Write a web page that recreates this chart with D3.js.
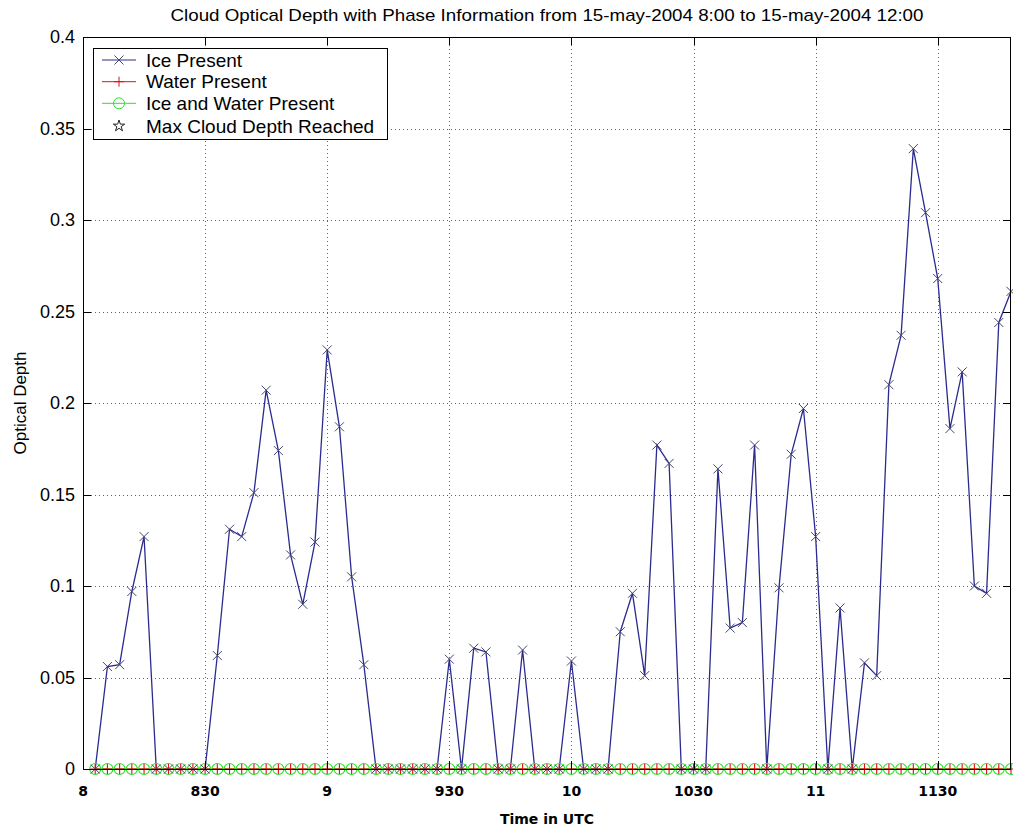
<!DOCTYPE html>
<html>
<head>
<meta charset="utf-8">
<script src="https://cdn.jsdelivr.net/npm/d3@7/dist/d3.min.js"></script>
<style>
  html, body { margin: 0; padding: 0; background: #fff; }
  svg { display: block; }
</style>
</head>
<body>
<svg id="chart" width="1013" height="832"></svg>
<script>
// Sample times (UTC) on 15-may-2004
const sampleTimes = [
  "08:03","08:06","08:09","08:12","08:15","08:18","08:21","08:24","08:27","08:30",
  "08:33","08:36","08:39","08:42","08:45","08:48","08:51","08:54","08:57","09:00",
  "09:03","09:06","09:09","09:12","09:15","09:18","09:21","09:24","09:27","09:30",
  "09:33","09:36","09:39","09:42","09:45","09:48","09:51","09:54","09:57","10:00",
  "10:03","10:06","10:09","10:12","10:15","10:18","10:21","10:24","10:27","10:30",
  "10:33","10:36","10:39","10:42","10:45","10:48","10:51","10:54","10:57","11:00",
  "11:03","11:06","11:09","11:12","11:15","11:18","11:21","11:24","11:27","11:30",
  "11:33","11:36","11:39","11:42","11:45","11:48"
];

// Optical depth where ice is present
const icePresent = [
  0, 0.056, 0.057, 0.097, 0.127, 0, 0, 0, 0, 0,
  0.062, 0.131, 0.127, 0.151, 0.207, 0.174, 0.117, 0.090, 0.124, 0.229,
  0.187, 0.105, 0.057, 0, 0, 0, 0, 0, 0, 0.060,
  0, 0.066, 0.064, 0, 0, 0.065, 0, 0, 0, 0.059,
  0, 0, 0, 0.075, 0.096, 0.051, 0.177, 0.167, 0, 0,
  0, 0.164, 0.077, 0.080, 0.177, 0, 0.099, 0.172, 0.197, 0.127,
  0, 0.088, 0, 0.058, 0.051, 0.210, 0.237, 0.339, 0.304, 0.268,
  0.186, 0.217, 0.100, 0.096, 0.244, 0.261
];

// Optical depth where liquid water is present
const waterPresent = [
  0,0,0,0,0,0,0,0,0,0, 0,0,0,0,0,0,0,0,0,0,
  0,0,0,0,0,0,0,0,0,0, 0,0,0,0,0,0,0,0,0,0,
  0,0,0,0,0,0,0,0,0,0, 0,0,0,0,0,0,0,0,0,0,
  0,0,0,0,0,0,0,0,0,0, 0,0,0,0,0,0
];

// Optical depth where both ice and water are present
const iceAndWaterPresent = [
  0,0,0,0,0,0,0,0,0,0, 0,0,0,0,0,0,0,0,0,0,
  0,0,0,0,0,0,0,0,0,0, 0,0,0,0,0,0,0,0,0,0,
  0,0,0,0,0,0,0,0,0,0, 0,0,0,0,0,0,0,0,0,0,
  0,0,0,0,0,0,0,0,0,0, 0,0,0,0,0,0
];

// Samples where the maximum cloud depth was reached (none in this window)
const maxDepthTimes = [];
const maxDepthValues = [];

const xLimits = ["08:00", "11:48"];
const xTickTimes = ["08:00","08:30","09:00","09:30","10:00","10:30","11:00","11:30"];
const xTickLabels = ["8","830","9","930","10","1030","11","1130"];
const yTicks = [0, 0.05, 0.1, 0.15, 0.2, 0.25, 0.3, 0.35, 0.4];
const yTickLabels = ["0","0.05","0.1","0.15","0.2","0.25","0.3","0.35","0.4"];

const legendLabels = ["Ice Present", "Water Present", "Ice and Water Present", "Max Cloud Depth Reached"];
const titleText = "Cloud Optical Depth with Phase Information from 15-may-2004 8:00 to 15-may-2004 12:00";

const parseTime = d3.utcParse("%Y-%m-%d %H:%M");
const toDate = s => parseTime("2004-05-15 " + s);

const svg = d3.select("#chart");
const plot = { left: 83, right: 1011, top: 37, bottom: 769 };

const x = d3.scaleUtc().domain(xLimits.map(toDate)).range([plot.left, plot.right]);
const y = d3.scaleLinear().domain([0, 0.4]).range([plot.bottom, plot.top]);

const helv = "'Liberation Sans', Arial, Helvetica, sans-serif";
const boldFont = "'DejaVu Sans', Verdana, sans-serif";

const ICE = "#2b2b8f", ICE_MARK = "#45456e", WATER = "#e01010", MIX = "#2ee02e", STAR = "#222";

svg.append("defs").append("clipPath").attr("id", "plotClip")
  .append("rect").attr("x", plot.left).attr("y", plot.top)
  .attr("width", plot.right - plot.left).attr("height", plot.bottom - plot.top);

// Dotted grid
const grid = svg.append("g").attr("stroke", "#3a3a3a").attr("stroke-width", 0.8)
  .attr("stroke-dasharray", "1,3");
grid.selectAll(".gx").data(xTickTimes.slice(1)).join("line")
  .attr("x1", d => Math.round(x(toDate(d))) + 0.5).attr("x2", d => Math.round(x(toDate(d))) + 0.5)
  .attr("y1", plot.top).attr("y2", plot.bottom);
grid.selectAll(".gy").data(yTicks.slice(1, -1)).join("line")
  .attr("y1", d => Math.round(y(d)) + 0.5).attr("y2", d => Math.round(y(d)) + 0.5)
  .attr("x1", plot.left).attr("x2", plot.right);

// Series data
const ice = sampleTimes.map((t, i) => ({ t: toDate(t), v: icePresent[i] }));
const water = sampleTimes.map((t, i) => ({ t: toDate(t), v: waterPresent[i] }));
const mix = sampleTimes.map((t, i) => ({ t: toDate(t), v: iceAndWaterPresent[i] }));
const stars = maxDepthTimes.map((t, i) => ({ t: toDate(t), v: maxDepthValues[i] }));

const line = d3.line().x(d => x(d.t)).y(d => y(d.v));
const data = svg.append("g");

const xPath = s => `M${-s},${-s}L${s},${s}M${-s},${s}L${s},${-s}`;
const plusPath = s => `M${-s},0L${s},0M0,${-s}L0,${s}`;
const starSym = d3.symbol().type(d3.symbolStar).size(40);

// Ice
data.append("path").datum(ice).attr("clip-path", "url(#plotClip)")
  .attr("d", line).attr("fill", "none").attr("stroke", ICE).attr("stroke-width", 1.3);
// Water
data.append("path").datum(water).attr("clip-path", "url(#plotClip)")
  .attr("d", line).attr("fill", "none").attr("stroke", WATER).attr("stroke-width", 1);
// Ice and water
data.append("path").datum(mix).attr("clip-path", "url(#plotClip)")
  .attr("d", line).attr("fill", "none").attr("stroke", MIX).attr("stroke-width", 1);

data.append("g").selectAll("path").data(mix).join("path")
  .attr("transform", d => `translate(${x(d.t)},${y(d.v)})`)
  .attr("d", d3.symbol().type(d3.symbolCircle).size(Math.PI * 5.5 * 5.5))
  .attr("fill", "none").attr("stroke", MIX).attr("stroke-width", 1.2);
data.append("g").selectAll("path").data(water).join("path")
  .attr("transform", d => `translate(${x(d.t)},${y(d.v)})`)
  .attr("d", plusPath(5)).attr("stroke", WATER).attr("stroke-width", 1.1);
data.append("g").selectAll("path").data(ice).join("path")
  .attr("transform", d => `translate(${x(d.t)},${y(d.v)})`)
  .attr("d", xPath(4.5)).attr("stroke", ICE_MARK).attr("stroke-width", 1);
data.append("g").selectAll("path").data(stars).join("path")
  .attr("transform", d => `translate(${x(d.t)},${y(d.v)})`)
  .attr("d", starSym).attr("fill", "none").attr("stroke", STAR);

// Axes box and inward ticks
const axes = svg.append("g").attr("stroke", "#000").attr("stroke-width", 1);
axes.append("rect").attr("x", plot.left + 0.5).attr("y", plot.top + 0.5)
  .attr("width", plot.right - plot.left - 1).attr("height", plot.bottom - plot.top)
  .attr("fill", "none");
const tk = 8;
xTickTimes.forEach(t => {
  const px = Math.round(x(toDate(t))) + 0.5;
  axes.append("line").attr("x1", px).attr("x2", px).attr("y1", plot.bottom).attr("y2", plot.bottom - tk);
  axes.append("line").attr("x1", px).attr("x2", px).attr("y1", plot.top).attr("y2", plot.top + tk);
});
yTicks.forEach(v => {
  const py = Math.round(y(v)) + 0.5;
  axes.append("line").attr("y1", py).attr("y2", py).attr("x1", plot.left).attr("x2", plot.left + tk);
  axes.append("line").attr("y1", py).attr("y2", py).attr("x1", plot.right).attr("x2", plot.right - tk);
});

// Tick labels
svg.append("g").selectAll("text").data(yTicks).join("text")
  .attr("x", plot.left - 8).attr("y", d => y(d)).attr("dy", "0.35em")
  .attr("text-anchor", "end").attr("font-family", helv).attr("font-size", 18)
  .text((d, i) => yTickLabels[i]);
svg.append("g").selectAll("text").data(xTickTimes).join("text")
  .attr("x", d => x(toDate(d))).attr("y", 796)
  .attr("text-anchor", "middle").attr("font-family", boldFont).attr("font-weight", "bold")
  .attr("font-size", 14).text((d, i) => xTickLabels[i]);

// Axis titles
svg.append("text").attr("x", (plot.left + plot.right) / 2).attr("y", 824)
  .attr("text-anchor", "middle").attr("font-family", boldFont).attr("font-weight", "bold")
  .attr("font-size", 14).text("Time in UTC");
svg.append("text").attr("transform", `translate(26,${(plot.top + plot.bottom) / 2}) rotate(-90)`)
  .attr("text-anchor", "middle").attr("font-family", helv).attr("font-size", 17)
  .text("Optical Depth");
svg.append("text").attr("x", (plot.left + plot.right) / 2).attr("y", 21)
  .attr("text-anchor", "middle").attr("font-family", helv).attr("font-size", 17)
  .attr("textLength", 753).attr("lengthAdjust", "spacingAndGlyphs")
  .text(titleText);

// Legend
const lg = svg.append("g").attr("transform", "translate(93,48)");
lg.append("rect").attr("x", 0.5).attr("y", 0.5).attr("width", 294).attr("height", 91)
  .attr("fill", "#fff").attr("stroke", "#000");
const rowY = [12, 33.7, 55.3, 78];
const swatch = [
  { color: ICE, marker: xPath(4.5), mcolor: ICE_MARK, line: true },
  { color: WATER, marker: plusPath(5), mcolor: WATER, line: true },
  { color: MIX, marker: null, mcolor: MIX, line: true },
  { color: STAR, marker: starSym(), mcolor: STAR, line: false }
];
legendLabels.forEach((lab, i) => {
  const g = lg.append("g").attr("transform", `translate(0,${rowY[i]})`);
  const s = swatch[i];
  if (s.line) g.append("line").attr("x1", 9).attr("x2", 43).attr("y1", 0).attr("y2", 0)
    .attr("stroke", s.color).attr("stroke-width", 1);
  if (i === 2) g.append("circle").attr("cx", 26).attr("cy", 0).attr("r", 5.5)
    .attr("fill", "none").attr("stroke", MIX);
  else g.append("path").attr("transform", "translate(26,0)").attr("d", s.marker)
    .attr("fill", "none").attr("stroke", s.mcolor).attr("stroke-width", 1);
  g.append("text").attr("x", 53).attr("y", 0).attr("dy", "0.35em")
    .attr("font-family", helv).attr("font-size", 19).text(lab);
});
</script>
</body>
</html>
